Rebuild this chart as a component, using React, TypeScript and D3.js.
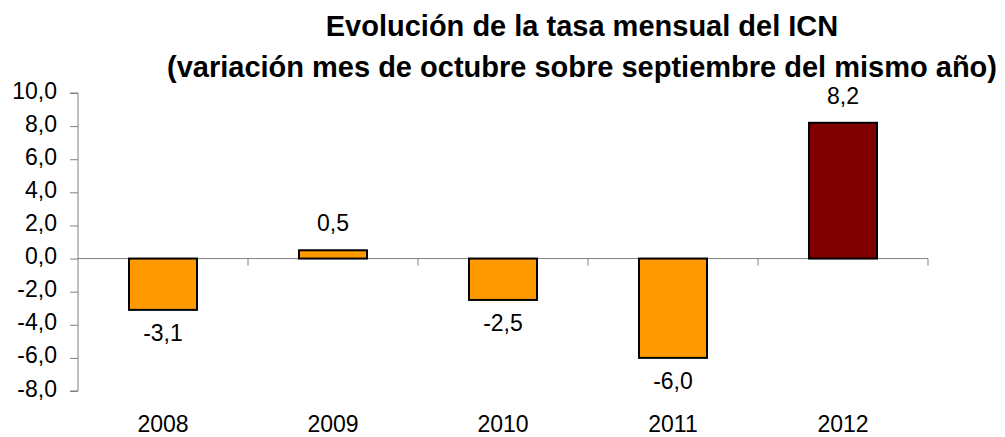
import React, { useEffect, useRef } from 'react';
import * as d3 from 'd3';

const years = ['2008', '2009', '2010', '2011', '2012'];
const values = [-3.1, 0.5, -2.5, -6.0, 8.2];
const barColors = ['#FF9900', '#FF9900', '#FF9900', '#FF9900', '#800000'];
const yTicks = [-8, -6, -4, -2, 0, 2, 4, 6, 8, 10];
const titleLines = [
  'Evolución de la tasa mensual del ICN',
  '(variación mes de octubre sobre septiembre del mismo año)',
];

const fmt = (v: number) => v.toFixed(1).replace('.', ',');

const App = () => {
  const svgRef = useRef<SVGSVGElement | null>(null);

  useEffect(() => {
    const width = 1005;
    const height = 437;
    const left = 78;
    const right = 928;
    const font = '"Liberation Sans", Arial, sans-serif';

    const svg = d3.select(svgRef.current)
      .attr('width', width)
      .attr('height', height)
      .attr('style', `position:absolute;left:0;top:0;font-family:${font};`);
    svg.selectAll('*').remove();

    const x = d3.scaleBand()
      .domain(years)
      .range([left, right])
      .paddingInner(0.6)
      .paddingOuter(0.3);

    const y = d3.scaleLinear()
      .domain([-8, 10])
      .range([391, 93]);

    // title
    svg.append('g')
      .attr('text-anchor', 'middle')
      .attr('font-weight', 'bold')
      .attr('font-size', 29)
      .selectAll('text')
      .data(titleLines)
      .join('text')
      .attr('x', 582)
      .attr('y', (d, i) => 36 + i * 41)
      .text(d => d);

    // y axis
    const yAxis = svg.append('g')
      .attr('transform', `translate(${left},0)`)
      .call(d3.axisLeft(y).tickValues(yTicks).tickSize(8).tickPadding(13).tickFormat(d => fmt(d as number)));
    yAxis.select('.domain').attr('stroke', '#808080').attr('d', `M-8,${y(10)}H0V${y(-8)}H-8`);
    yAxis.selectAll('.tick line').attr('stroke', '#808080');
    yAxis.selectAll('.tick text')
      .attr('font-size', 23)
      .attr('font-family', font)
      .attr('dy', '0.22em')
      .attr('fill', '#000');

    // x axis at zero
    const bounds = years.map(d => (x(d) as number) + x.bandwidth() + x.step() * 0.3);
    const xg = svg.append('g');
    xg.append('line')
      .attr('x1', left).attr('x2', right)
      .attr('y1', y(0)).attr('y2', y(0))
      .attr('stroke', '#808080');
    xg.selectAll('line.tk')
      .data(bounds)
      .join('line')
      .attr('class', 'tk')
      .attr('x1', d => d).attr('x2', d => d)
      .attr('y1', y(0)).attr('y2', y(0) + 7)
      .attr('stroke', '#808080');

    // bars
    svg.append('g')
      .selectAll('rect')
      .data(values)
      .join('rect')
      .attr('x', (d, i) => x(years[i]) as number)
      .attr('width', x.bandwidth())
      .attr('y', d => y(Math.max(0, d)))
      .attr('height', d => Math.abs(y(d) - y(0)))
      .attr('fill', (d, i) => barColors[i])
      .attr('stroke', '#000')
      .attr('stroke-width', 2);

    // value labels
    svg.append('g')
      .attr('text-anchor', 'middle')
      .attr('font-size', 23)
      .selectAll('text')
      .data(values)
      .join('text')
      .attr('x', (d, i) => (x(years[i]) as number) + x.bandwidth() / 2)
      .attr('y', d => d >= 0 ? y(d) - 19 : y(d) + 31)
      .text(d => fmt(d));

    // category labels
    svg.append('g')
      .attr('text-anchor', 'middle')
      .attr('font-size', 23)
      .selectAll('text')
      .data(years)
      .join('text')
      .attr('x', d => (x(d) as number) + x.bandwidth() / 2)
      .attr('y', 432)
      .text(d => d);
  }, []);

  return <svg ref={svgRef} />;
};

export default App;
